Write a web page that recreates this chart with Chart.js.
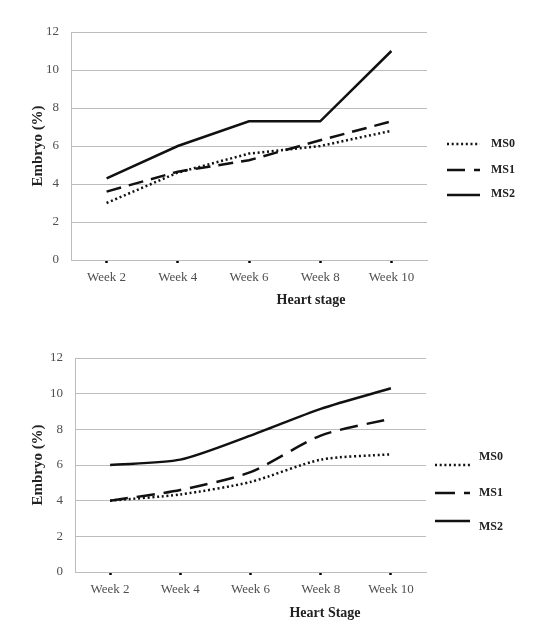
<!DOCTYPE html>
<html>
<head>
<meta charset="utf-8">
<script src="https://cdn.jsdelivr.net/npm/chart.js@4.4.1/dist/chart.umd.min.js"></script>
<style>
  html, body { margin: 0; padding: 0; background: #fff; }
  #wrap { position: relative; width: 539px; height: 636px; }
  .box { position: absolute; left: 0; width: 539px; }
</style>
</head>
<body>
<div id="wrap">
  <div class="box" style="top:0;height:310px;"><canvas id="chartTop"></canvas></div>
  <div class="box" style="top:310px;height:326px;"><canvas id="chartBottom"></canvas></div>
</div>
<script>
/* ---------- data ---------- */
const weeks = ['Week 2', 'Week 4', 'Week 6', 'Week 8', 'Week 10'];
const seriesNames = ['MS0', 'MS1', 'MS2'];
const yTicks = [0, 2, 4, 6, 8, 10, 12];

// upper panel (Heart stage)
const topMS0 = [3.0, 4.6, 5.6, 6.0, 6.8];
const topMS1 = [3.6, 4.65, 5.25, 6.3, 7.3];
const topMS2 = [4.3, 6.0, 7.3, 7.3, 11.0];

// lower panel (Heart Stage)
const botMS0 = [4.0, 4.35, 5.05, 6.3, 6.6];
const botMS1 = [4.0, 4.6, 5.6, 7.65, 8.6];
const botMS2 = [6.0, 6.3, 7.65, 9.15, 10.3];

const SERIF = '"Liberation Serif", "DejaVu Serif", serif';
const GRID = '#bdbdbd';
const INK = '#111';
const TICK_INK = '#4f4f4f';

// draws the side legend and the x title where the original puts them
const sideBits = {
  id: 'sideBits',
  afterDraw(chart, args, opts) {
    const ctx = chart.ctx;
    ctx.save();
    chart.data.datasets.forEach((ds, i) => {
      const r = opts.rows[i];
      ctx.beginPath();
      ctx.setLineDash(r.dash);
      ctx.lineWidth = ds.borderWidth;
      ctx.strokeStyle = ds.borderColor;
      ctx.moveTo(opts.lineX0, r.lineY);
      ctx.lineTo(opts.lineX1, r.lineY);
      ctx.stroke();
      ctx.setLineDash([]);
      ctx.fillStyle = '#222';
      ctx.font = 'bold 12px ' + SERIF;
      ctx.textBaseline = 'middle';
      ctx.textAlign = 'left';
      ctx.fillText(ds.label, opts.textX, r.textY);
    });
    ctx.font = 'bold 14px ' + SERIF;
    ctx.textAlign = 'center';
    ctx.fillStyle = '#222';
    ctx.fillText(opts.xTitle, opts.xTitleX, opts.xTitleY);
    ctx.restore();
  }
};

function makePanel(canvasId, values, cfg) {
  const styles = [
    { dash: [2, 2.7], width: 2.5 },
    { dash: cfg.dash, width: 2.5 },
    { dash: [], width: 2.5 }
  ];
  return new Chart(document.getElementById(canvasId), {
    type: 'line',
    data: {
      labels: weeks,
      datasets: seriesNames.map((name, i) => ({
        label: name,
        data: values[i],
        borderColor: INK,
        borderWidth: styles[i].width,
        borderDash: styles[i].dash,
        pointRadius: 0,
        tension: cfg.tension,
        fill: false
      }))
    },
    options: {
      responsive: true,
      maintainAspectRatio: false,
      animation: false,
      layout: { padding: cfg.padding },
      plugins: {
        legend: { display: false },
        tooltip: { enabled: false },
        sideBits: cfg.side
      },
      scales: {
        x: {
          offset: true,
          afterFit: s => { s.height = cfg.xHeight; },
          grid: { drawOnChartArea: false, drawTicks: true, tickLength: 3, tickWidth: 2.5, tickColor: '#000' },
          border: { color: GRID, width: 1 },
          ticks: { color: TICK_INK, padding: 7, font: { family: SERIF, size: 13 }, maxRotation: 0 }
        },
        y: {
          min: 0,
          max: 12,
          afterFit: s => { s.width = cfg.yWidth; },
          afterBuildTicks: s => { s.ticks = yTicks.map(v => ({ value: v })); },
          grid: { color: GRID, lineWidth: 1, drawTicks: false },
          border: { color: GRID, width: 1 },
          ticks: { color: TICK_INK, padding: 12, font: { family: SERIF, size: 13 } },
          title: {
            display: true,
            text: 'Embryo (%)',
            color: '#222',
            padding: { top: 4, bottom: 4 },
            font: { family: SERIF, size: 15, weight: 'bold' }
          }
        }
      }
    },
    plugins: [sideBits]
  });
}

makePanel('chartTop', [topMS0, topMS1, topMS2], {
  dash: [15, 8],
  tension: 0,
  padding: { left: 25, right: 112, top: 32, bottom: 0 },
  yWidth: 46,
  xHeight: 50,
  side: {
    lineX0: 447, lineX1: 480, textX: 491,
    rows: [
      { lineY: 144, textY: 144, dash: [2, 2.7] },
      { lineY: 170, textY: 170, dash: [18, 9] },
      { lineY: 195, textY: 194, dash: [] }
    ],
    xTitle: 'Heart stage', xTitleX: 311, xTitleY: 300
  }
});

makePanel('chartBottom', [botMS0, botMS1, botMS2], {
  dash: [18, 9],
  tension: 0.25,
  padding: { left: 25, right: 113, top: 48, bottom: 13 },
  yWidth: 50,
  xHeight: 51,
  side: {
    lineX0: 435, lineX1: 470, textX: 479,
    rows: [
      { lineY: 155, textY: 147, dash: [2, 2.7] },
      { lineY: 183, textY: 183, dash: [20, 9] },
      { lineY: 211, textY: 217, dash: [] }
    ],
    xTitle: 'Heart Stage', xTitleX: 325, xTitleY: 303
  }
});
</script>
</body>
</html>
